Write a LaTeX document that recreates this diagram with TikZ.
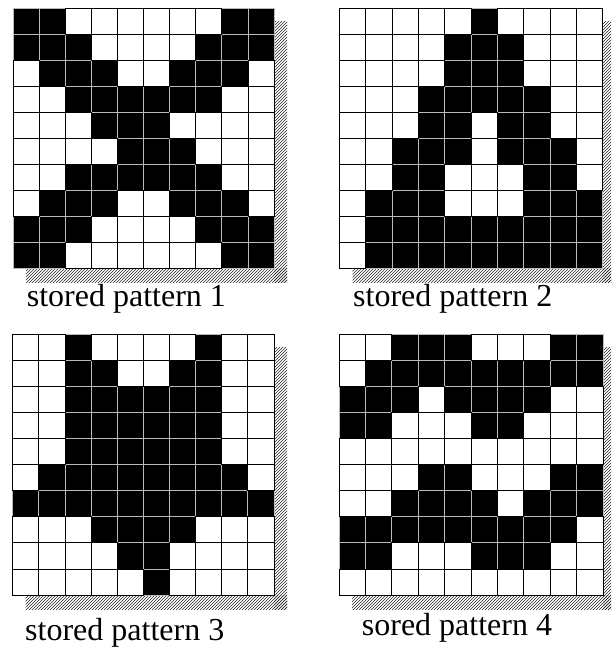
\documentclass[tikz,border=0pt]{standalone}
\usepackage{fontspec}
\setmainfont{Liberation Serif}
\usetikzlibrary{patterns}
\tikzset{
  blackcell/.style={fill=black,draw=gray!55,line width=0.8pt},
  whitecell/.style={draw=black,line width=0.8pt},
  shadowstrip/.style={pattern=north east lines,pattern color=black!85},
  caption/.style={inner sep=0pt,anchor=base west,font=\fontsize{32}{36}\selectfont}
}
\newcommand\patgrid[5]{%
  \pgfmathsetmacro\cw{#3/10}%
  \pgfmathsetmacro\ch{#4/10}%
  \fill[shadowstrip] ({#1+#3},{#2+13}) rectangle ({#1+#3+13},{#2+#4+14});
  \fill[shadowstrip] ({#1+13},{#2+#4}) rectangle ({#1+#3+13},{#2+#4+14});
  \foreach \row [count=\ri from 0] in {#5} {
    \foreach \v [count=\ci from 0] in \row {
      \ifnum\v=1 \path[blackcell] ({#1+\ci*\cw},{#2+\ri*\ch}) rectangle +(\cw,\ch);\fi
    }
  }
  \foreach \row [count=\ri from 0] in {#5} {
    \foreach \v [count=\ci from 0] in \row {
      \ifnum\v=0 \path[whitecell] ({#1+\ci*\cw},{#2+\ri*\ch}) rectangle +(\cw,\ch);\fi
    }
  }
}
\begin{document}
\begin{tikzpicture}[x=1pt,y=-1pt]
\useasboundingbox (0,0) rectangle (611,648);
\clip (0,0) rectangle (611,648);
\fill[white] (0,0) rectangle (611,648);
\patgrid{13}{8}{261}{260}{
{1,1,0,0,0,0,0,0,1,1},
{1,1,1,0,0,0,0,1,1,1},
{0,1,1,1,0,0,1,1,1,0},
{0,0,1,1,1,1,1,1,0,0},
{0,0,0,1,1,1,0,0,0,0},
{0,0,0,0,1,1,1,0,0,0},
{0,0,1,1,1,1,1,1,0,0},
{0,1,1,1,0,0,1,1,1,0},
{1,1,1,0,0,0,0,1,1,1},
{1,1,0,0,0,0,0,0,1,1}}
\patgrid{339.5}{8}{263}{260}{
{0,0,0,0,0,1,0,0,0,0},
{0,0,0,0,1,1,1,0,0,0},
{0,0,0,0,1,1,1,0,0,0},
{0,0,0,1,1,1,1,1,0,0},
{0,0,0,1,1,0,1,1,0,0},
{0,0,1,1,1,0,1,1,1,0},
{0,0,1,1,0,0,0,1,1,0},
{0,1,1,1,0,0,0,1,1,1},
{0,1,1,1,1,1,1,1,1,1},
{0,1,1,1,1,1,1,1,1,1}}
\patgrid{12.7}{334}{261.3}{261}{
{0,0,1,0,0,0,0,1,0,0},
{0,0,1,1,0,0,1,1,0,0},
{0,0,1,1,1,1,1,1,0,0},
{0,0,1,1,1,1,1,1,0,0},
{0,0,1,1,1,1,1,1,0,0},
{0,1,1,1,1,1,1,1,1,0},
{1,1,1,1,1,1,1,1,1,1},
{0,0,0,1,1,1,1,0,0,0},
{0,0,0,0,1,1,0,0,0,0},
{0,0,0,0,0,1,0,0,0,0}}
\patgrid{339}{334}{264}{261}{
{0,0,1,1,1,0,0,0,1,1},
{0,1,1,1,1,1,1,1,1,1},
{1,1,1,0,1,1,1,1,0,0},
{1,1,0,0,0,1,1,0,0,0},
{0,0,0,0,0,0,0,0,0,0},
{0,0,0,1,1,0,0,0,1,1},
{0,0,1,1,1,1,0,1,1,1},
{1,1,1,1,1,1,1,1,1,0},
{1,1,0,0,0,1,1,1,0,0},
{0,0,0,0,0,0,0,0,0,0}}
\node[caption] (cap1) at (26.7,306) {stored pattern 1};
\node[caption] (cap2) at (353,306) {stored pattern 2};
\node[caption] (cap3) at (25,640) {stored pattern 3};
\node[caption] (cap4) at (361.7,635) {sored pattern 4};
\end{tikzpicture}
\end{document}
